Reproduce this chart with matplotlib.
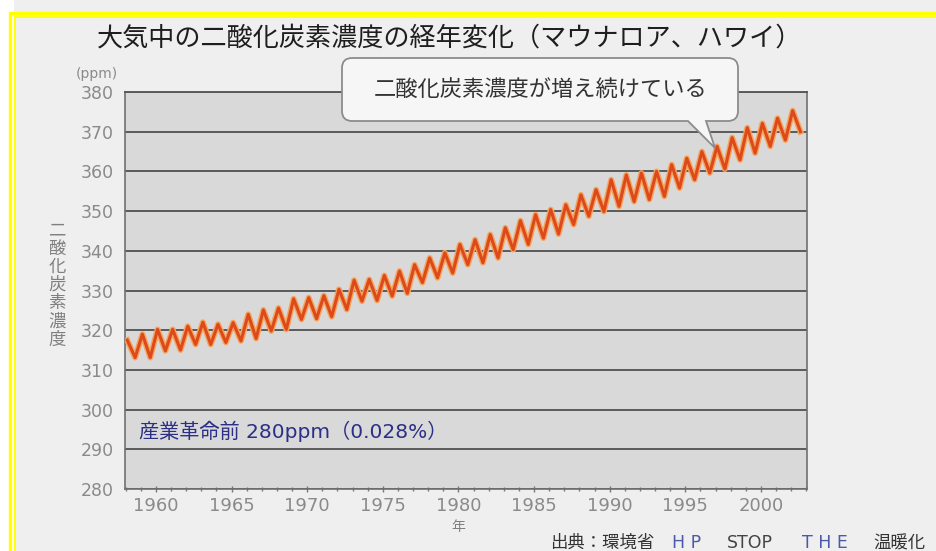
import matplotlib
matplotlib.use("Agg")
import matplotlib.pyplot as plt
from matplotlib.patches import Rectangle, PathPatch
from matplotlib.path import Path
from matplotlib.ticker import MultipleLocator

plt.rcParams['font.family'] = ['DejaVu Sans', 'Noto Sans CJK JP']

# Mauna Loa CO2 (ppm): yearly seasonal maximum and minimum
years = list(range(1958, 2003))
peak_ppm = [317.5, 319.0, 320.2, 320.2, 321.0, 322.0, 321.5, 321.9, 324.0, 325.1,
            325.6, 327.9, 328.2, 328.7, 330.3, 332.6, 332.8, 333.8, 334.9, 336.5,
            338.2, 339.5, 341.6, 342.8, 344.1, 345.8, 347.6, 349.1, 350.4, 351.6,
            354.1, 355.4, 357.9, 359.1, 359.6, 360.0, 361.7, 363.3, 365.0, 366.3,
            368.5, 371.0, 372.1, 373.4, 375.3]
trough_ppm = [313.1, 313.1, 314.8, 315.0, 316.4, 316.4, 316.9, 317.3, 317.9, 319.8,
              320.2, 322.7, 322.9, 323.4, 325.2, 327.3, 327.5, 328.6, 329.3, 332.0,
              333.2, 334.4, 336.5, 337.0, 338.2, 340.3, 341.6, 343.2, 344.2, 346.6,
              348.7, 349.9, 351.2, 352.4, 352.9, 353.7, 355.8, 357.9, 359.6, 360.6,
              362.9, 364.6, 366.3, 367.9, 370.0]
x_ticks = [1960, 1965, 1970, 1975, 1980, 1985, 1990, 1995, 2000]
y_ticks = [280, 290, 300, 310, 320, 330, 340, 350, 360, 370, 380]

title = "大気中の二酸化炭素濃度の経年変化（マウナロア、ハワイ）"
callout = "二酸化炭素濃度が増え続けている"
preindustrial = "産業革命前 280ppm（0.028%）"
ylabel = "二酸化炭素濃度"

W, H = 936, 551
fig = plt.figure(figsize=(W / 100, H / 100), dpi=100, facecolor="white")


def fx(x):
    return x / W


def fy(y):
    return 1 - y / H


# panel background and double yellow frame
fig.add_artist(Rectangle((fx(14), fy(600)), fx(1000), 600 / H,
                         transform=fig.transFigure, facecolor="#efefef",
                         edgecolor="none", zorder=-10))
fig.add_artist(Rectangle((fx(9.5), fy(600)), fx(1000), (600 - 12.5) / H,
                         transform=fig.transFigure, facecolor="none",
                         edgecolor="#ffff00", lw=2.4, zorder=-9))
fig.add_artist(Rectangle((fx(14.5), fy(600)), fx(1000), (600 - 16.5) / H,
                         transform=fig.transFigure, facecolor="none",
                         edgecolor="#ffff00", lw=1.3, zorder=-9))

ax = fig.add_axes([125 / W, 1 - 489 / H, (807 - 125) / W, (489 - 92) / H])
ax.set_facecolor("#d9d9d9")

# seasonal zigzag: maximum in spring, minimum in autumn
xs, ys = [], []
for yr, p, t in zip(years, peak_ppm, trough_ppm):
    xs += [yr + 0.1, yr + 0.62]
    ys += [p, t]
ax.plot(xs, ys, color="#f7a35c", lw=4.2, solid_joinstyle="round", zorder=3)
ax.plot(xs, ys, color="#dc4a1c", lw=2.2, solid_joinstyle="round", zorder=4)

ax.set_xlim(1957.95, 2003.05)
ax.set_ylim(280, 380)
ax.set_yticks(y_ticks)
ax.set_xticks(x_ticks)
ax.xaxis.set_minor_locator(MultipleLocator(1))
ax.yaxis.grid(True, color="#5a5a5a", lw=1.4)
ax.set_axisbelow(True)
ax.tick_params(axis="y", length=0, colors="#8a8a8a", labelsize=12.5, pad=8)
ax.tick_params(axis="x", which="major", direction="inout", length=5, width=1,
               color="#777777", labelcolor="#8a8a8a", labelsize=13, pad=3)
ax.tick_params(axis="x", which="minor", direction="inout", length=3.5, width=1,
               color="#777777")
for side in ["left", "right", "bottom"]:
    ax.spines[side].set_color("#707070")
    ax.spines[side].set_linewidth(1.2)
ax.spines["top"].set_color("#5a5a5a")
ax.spines["top"].set_linewidth(1.4)

ax.text(1958.9, 294.6, preindustrial, color="#2b2f85", fontsize=14.5,
        va="center", ha="left", zorder=5)

# titles and axis captions
fig.text(fx(450), fy(38), title, fontsize=18.8, color="#1e1e1e",
         ha="center", va="center")
fig.text(fx(97), fy(74), "(ppm)", fontsize=10, color="#8a8a8a",
         ha="center", va="center")
fig.text(fx(57), fy(285), "\n".join(ylabel), fontsize=12.5, color="#808080",
         ha="center", va="center", linespacing=1.02)
fig.text(fx(458), fy(527), "年", fontsize=10, color="#808080",
         ha="center", va="center")

# speech-bubble callout
L, R, T, B, r = 342, 738, 58, 121, 10
pts = [(L + r, T), (R - r, T), (R, T), (R, T + r), (R, B - r), (R, B),
       (R - r, B), (706, B), (715, 148), (688, B), (L + r, B), (L, B),
       (L, B - r), (L, T + r), (L, T), (L + r, T)]
codes = [Path.MOVETO, Path.LINETO, Path.CURVE3, Path.CURVE3, Path.LINETO,
         Path.CURVE3, Path.CURVE3, Path.LINETO, Path.LINETO, Path.LINETO,
         Path.LINETO, Path.CURVE3, Path.CURVE3, Path.LINETO, Path.CURVE3,
         Path.CURVE3]
bubble = Path([(fx(x), fy(y)) for x, y in pts], codes)
fig.add_artist(PathPatch(bubble, transform=fig.transFigure, facecolor="#f6f6f6",
                         edgecolor="#8c8c8c", lw=1.3, zorder=10))
fig.text(fx(541), fy(90), callout, fontsize=16, color="#333333",
         ha="center", va="center", zorder=11)

# source line
src = [("出典：環境省", 550, "#333333"), ("H P", 672, "#4a5aa8"),
       ("STOP", 727, "#444444"), ("T H E", 802, "#4a5aa8"),
       ("温暖化", 873, "#333333")]
for s, x, c in src:
    fig.text(fx(x), fy(543), s, fontsize=12.5, color=c, ha="left", va="center")

fig.savefig("out.png", dpi=100, facecolor="white")
